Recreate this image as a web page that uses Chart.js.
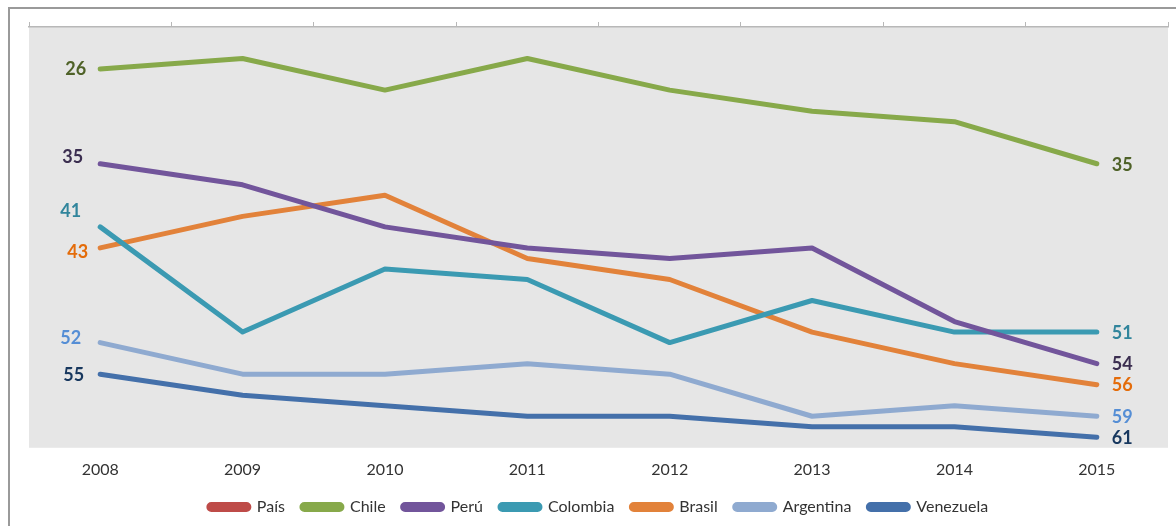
<!DOCTYPE html>
<html lang="es">
<head>
<meta charset="utf-8">
<title>Ranking 2008-2015</title>
<script src="https://cdn.jsdelivr.net/npm/chart.js@4.4.1/dist/chart.umd.min.js"></script>
<style>
  html, body { margin: 0; padding: 0; background: #fff; }
  #wrap { width: 1176px; height: 526px; }
</style>
</head>
<body>
<div id="wrap"><canvas id="rankChart"></canvas></div>
<script>
        // Years and ranking positions per country
        const years = ['2008', '2009', '2010', '2011', '2012', '2013', '2014', '2015'];
        const pais = [null, null, null, null, null, null, null, null];
        const chile = [26, 25, 28, 25, 28, 30, 31, 35];
        const peru = [35, 37, 41, 43, 44, 43, 50, 54];
        const colombia = [41, 51, 45, 46, 52, 48, 51, 51];
        const brasil = [43, 40, 38, 44, 46, 51, 54, 56];
        const argentina = [52, 55, 55, 54, 55, 59, 58, 59];
        const venezuela = [55, 57, 58, 59, 59, 60, 60, 61];

        const FONT = 'Lato, Calibri, "Open Sans", sans-serif';

        function series(label, data, color, labelColor, shift) {
            return {
                label: label,
                data: data,
                borderColor: color,
                backgroundColor: color,
                borderWidth: 5,
                borderCapStyle: 'round',
                borderJoinStyle: 'round',
                pointRadius: 0,
                pointHoverRadius: 0,
                tension: 0,
                labelColor: labelColor,
                startShift: shift,
                xAxisID: 'x'
            };
        }

        // Plot background and outer frame
        const frame = {
            id: 'frame',
            beforeDraw(chart) {
                const { ctx, chartArea: a } = chart;
                ctx.save();
                ctx.fillStyle = '#e6e6e6';
                ctx.fillRect(a.left, a.top, a.right - a.left, a.bottom - a.top);
                ctx.strokeStyle = '#9a9a9a';
                ctx.lineWidth = 2;
                ctx.beginPath();
                ctx.moveTo(9, chart.height);
                ctx.lineTo(9, 8);
                ctx.lineTo(chart.width, 8);
                ctx.stroke();
                ctx.restore();
            }
        };

        // Value labels at the first and last year
        const endLabels = {
            id: 'endLabels',
            afterDatasetsDraw(chart) {
                const ctx = chart.ctx;
                ctx.save();
                ctx.font = 'bold 18px ' + FONT;
                ctx.textBaseline = 'middle';
                chart.data.datasets.forEach((ds, i) => {
                    const pts = chart.getDatasetMeta(i).data;
                    if (ds.data[0] == null) return;
                    ctx.fillStyle = ds.labelColor;
                    const first = pts[0];
                    const last = pts[pts.length - 1];
                    ctx.textAlign = 'right';
                    ctx.fillText(ds.data[0], first.x + ds.startShift[0], first.y + ds.startShift[1]);
                    ctx.textAlign = 'left';
                    ctx.fillText(ds.data[ds.data.length - 1], last.x + 15, last.y + 1);
                });
                ctx.restore();
            }
        };

        const ctx = document.getElementById('rankChart').getContext('2d');
        new Chart(ctx, {
            type: 'line',
            data: {
                labels: years,
                datasets: [
                    series('País', pais, '#be4b48', '#be4b48', [-14, 0]),
                    series('Chile', chile, '#87a94a', '#4f6228', [-14, 0]),
                    series('Perú', peru, '#72559b', '#3b2e50', [-17, -7]),
                    series('Colombia', colombia, '#3b9ab2', '#31859c', [-19, -16]),
                    series('Brasil', brasil, '#e2823a', '#e46c0a', [-12, 4]),
                    series('Argentina', argentina, '#8faad0', '#558ed5', [-19, -4]),
                    series('Venezuela', venezuela, '#4470aa', '#17375e', [-16, 1])
                ]
            },
            options: {
                responsive: true,
                maintainAspectRatio: false,
                animation: false,
                layout: {
                    padding: { left: 29, right: 8, top: 22, bottom: 1 }
                },
                scales: {
                    x: {
                        position: 'bottom',
                        offset: true,
                        grid: { display: false, drawTicks: false },
                        border: { display: false },
                        ticks: {
                            color: '#333333',
                            padding: 12,
                            font: { family: FONT, size: 16 }
                        },
                        // pull the legend closer to the year labels
                        afterFit(scale) {
                            scale.height -= 9;
                        }
                    },
                    xTop: {
                        position: 'top',
                        offset: true,
                        grid: {
                            offset: true,
                            drawOnChartArea: false,
                            drawTicks: true,
                            tickLength: 5,
                            color: '#b8b8b8'
                        },
                        border: { display: true, color: '#b8b8b8', width: 1.5 },
                        ticks: { display: false }
                    },
                    y: {
                        display: false,
                        reverse: true,
                        min: 22,
                        max: 62
                    }
                },
                plugins: {
                    legend: {
                        position: 'bottom',
                        labels: {
                            boxWidth: 40,
                            boxHeight: 5,
                            padding: 17,
                            color: '#333333',
                            font: { family: FONT, size: 16 },
                            useBorderRadius: true,
                            borderRadius: 2.5
                        }
                    },
                    tooltip: { enabled: false }
                }
            },
            plugins: [frame, endLabels]
        });
</script>
</body>
</html>
